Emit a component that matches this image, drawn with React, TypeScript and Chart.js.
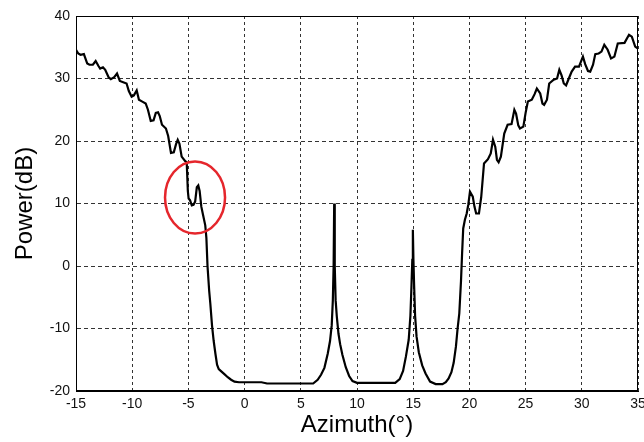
import React, { useEffect, useRef } from "react";
import { Chart, registerables } from "chart.js";

Chart.register(...registerables);

// Azimuth (degrees)
const azimuth: number[] = [
  -15, -14.8, -14.6, -14.3, -14.0, -13.8, -13.5, -13.25, -13.0, -12.85, -12.6, -12.4, -12.1, -11.9, -11.6, -11.35,
  -11.1, -10.8, -10.5, -10.3, -10.05, -9.85, -9.6, -9.4, -9.1, -8.8, -8.6, -8.35, -8.1, -7.9, -7.7, -7.55, -7.35,
  -7.0, -6.8, -6.55, -6.3, -6.1, -5.95, -5.8, -5.6, -5.3, -5.15, -5.05, -4.98, -4.85, -4.7, -4.55, -4.4, -4.25,
  -4.12, -4.0, -3.85, -3.7, -3.5, -3.4, -3.3, -3.15, -3.05, -2.9, -2.75, -2.6, -2.45, -2.3, -2.05, -1.8, -1.5,
  -1.2, -0.9, -0.5, 1.5, 2.0, 6.1, 6.5, 6.8, 7.1, 7.4, 7.6, 7.75, 7.85, 7.92, 7.97, 8.02, 8.1, 8.2, 8.35, 8.5,
  8.7, 9.0, 9.3, 9.6, 10.0, 13.4, 13.8, 14.1, 14.35, 14.6, 14.75, 14.85, 14.92, 14.97, 15.02, 15.08, 15.17, 15.3,
  15.5, 15.8, 16.1, 16.5, 17.0, 17.6, 17.9, 18.15, 18.4, 18.6, 18.8, 18.95, 19.1, 19.25, 19.35, 19.45, 19.6,
  19.76, 19.9, 20.05, 20.3, 20.45, 20.6, 20.85, 21.05, 21.3, 21.65, 21.9, 22.1, 22.3, 22.45, 22.6, 22.8, 23.1,
  23.4, 23.75, 24.0, 24.15, 24.35, 24.5, 24.8, 25.0, 25.2, 25.55, 25.8, 26.0, 26.3, 26.5, 26.65, 26.9, 27.1,
  27.5, 27.8, 28.0, 28.2, 28.4, 28.6, 28.8, 29.1, 29.4, 29.75, 30.1, 30.3, 30.55, 30.75, 31.0, 31.2, 31.5,
  31.75, 32.0, 32.3, 32.6, 32.9, 33.2, 33.8, 34.2, 34.45, 34.75, 35.0,
];

// Power (dB)
const power: number[] = [
  34.6, 34.0, 33.8, 33.9, 32.4, 32.2, 32.2, 32.8, 32.0, 31.6, 31.8, 31.4, 30.2, 29.9, 30.2, 30.8,
  29.6, 29.4, 29.2, 28.0, 27.1, 27.3, 28.1, 26.6, 26.3, 26.0, 25.0, 23.2, 23.3, 24.5, 24.6, 24.0, 22.6,
  22.0, 20.8, 18.1, 18.2, 19.5, 20.2, 19.6, 17.5, 16.8, 16.6, 12.0, 10.8, 10.5, 9.7, 9.8, 10.3, 12.6,
  12.9, 12.0, 9.5, 8.2, 6.5, 4.5, 0.0, -4.0, -6.0, -9.5, -12.0, -14.0, -15.8, -16.5, -16.9, -17.3, -17.8,
  -18.2, -18.5, -18.6, -18.6, -18.8, -18.8, -18.2, -17.4, -16.3, -14.0, -12.0, -9.5, -5.5, 0, 10.0, 0, -5.5, -8.0, -10.8, -12.5,
  -14.2, -16.2, -17.6, -18.4, -18.7, -18.7, -18.1, -16.8, -14.5, -11.8, -8.0, -3.0, 1.0, 5.8, 1.0, -3.0, -8.0, -11.3,
  -13.8, -15.9, -17.2, -18.5, -18.9, -18.9, -18.6, -18.0, -17.0, -15.5, -12.9, -10.0, -7.6, -2.5, 2.0, 6.0, 7.4,
  8.4, 9.8, 11.9, 11.1, 9.5, 8.4, 8.4, 11.0, 16.4, 17.1, 18.0, 20.2, 19.1, 17.0, 16.6, 17.5, 21.2,
  22.6, 22.7, 25.0, 24.4, 22.5, 22.0, 22.3, 24.5, 26.3, 26.6, 27.5, 28.4, 27.6, 26.0, 25.8, 26.6, 29.2,
  29.8, 30.0, 31.4, 30.5, 29.2, 28.9, 29.8, 31.1, 31.9, 31.9, 33.5, 32.3, 31.2, 31.1, 32.2, 33.9, 34.0,
  34.3, 35.4, 34.6, 33.2, 33.5, 35.6, 35.7, 37.0, 36.7, 35.1, 34.8,
];

const xTicks: number[] = [-15, -10, -5, 0, 5, 10, 15, 20, 25, 30, 35];
const yTicks: number[] = [-20, -10, 0, 10, 20, 30, 40];

// Highlight ellipse: [centerAzimuth, centerPower, radiusAzimuth, radiusPower]
const highlight: number[] = [-4.41, 10.96, 2.67, 5.76];

const FONT = "'Liberation Sans', Arial, sans-serif";

const framePlugin = {
  id: "frameAndEllipse",
  afterDatasetsDraw(chart: any) {
    const { ctx, chartArea, scales } = chart;
    ctx.save();
    ctx.strokeStyle = "#000";
    ctx.lineWidth = 1;
    ctx.setLineDash([]);
    ctx.strokeRect(
      Math.round(chartArea.left) + 0.5,
      Math.round(chartArea.top) + 0.5,
      Math.round(chartArea.right - chartArea.left) - 1,
      Math.round(chartArea.bottom - chartArea.top) - 1
    );
    const x = scales.x;
    const y = scales.y;
    const cx = x.getPixelForValue(highlight[0]);
    const cy = y.getPixelForValue(highlight[1]);
    const rx = Math.abs(x.getPixelForValue(highlight[0] + highlight[2]) - cx);
    const ry = Math.abs(y.getPixelForValue(highlight[1] + highlight[3]) - cy);
    ctx.beginPath();
    ctx.ellipse(cx, cy, rx, ry, 0, 0, Math.PI * 2);
    ctx.strokeStyle = "#e5262c";
    ctx.lineWidth = 2.5;
    ctx.stroke();
    ctx.restore();
  },
};

const bgPlugin = {
  id: "whiteBg",
  beforeDraw(chart: any) {
    const { ctx, width, height } = chart;
    ctx.save();
    ctx.fillStyle = "#fff";
    ctx.fillRect(0, 0, width, height);
    ctx.restore();
  },
};

export default function App() {
  const ref = useRef<HTMLCanvasElement | null>(null);

  useEffect(() => {
    document.body.style.margin = "0";
    if (!ref.current) return;
    const points = azimuth.map((a, i) => ({ x: a, y: power[i] }));
    const chart = new Chart(ref.current, {
      type: "scatter",
      data: {
        datasets: [
          {
            data: points,
            showLine: true,
            borderColor: "#000",
            borderWidth: 2.2,
            pointRadius: 0,
            tension: 0,
          },
        ],
      },
      options: {
        animation: false,
        responsive: false,
        devicePixelRatio: 1,
        layout: { padding: { top: 16, right: 6, left: 0, bottom: 0 } },
        plugins: { legend: { display: false }, tooltip: { enabled: false } },
        scales: {
          x: {
            type: "linear",
            min: -15,
            max: 35,
            afterBuildTicks: (s: any) => {
              s.ticks = xTicks.map((v) => ({ value: v }));
            },
            afterFit: (s: any) => {
              s.height = 51;
              s.paddingLeft = 0;
              s.paddingRight = 0;
            },
            ticks: {
              font: { family: FONT, size: 14 },
              color: "#111",
              padding: 5,
              maxRotation: 0,
            },
            grid: { color: "#333", lineWidth: 1, drawTicks: false },
            border: { display: true, color: "#000", width: 1, dash: [3, 3] },
            title: {
              display: true,
              text: "Azimuth(°)",
              font: { family: FONT, size: 24 },
              color: "#000",
              padding: { top: 0, bottom: 2 },
            },
          },
          y: {
            type: "linear",
            min: -20,
            max: 40,
            afterBuildTicks: (s: any) => {
              s.ticks = yTicks.map((v) => ({ value: v }));
            },
            afterFit: (s: any) => {
              s.width = 76;
              s.paddingTop = 0;
              s.paddingBottom = 0;
            },
            ticks: {
              font: { family: FONT, size: 14 },
              color: "#111",
              padding: 6,
            },
            grid: { color: "#333", lineWidth: 1, drawTicks: false },
            border: { display: true, color: "#000", width: 1, dash: [4, 3] },
            title: {
              display: true,
              text: "Power(dB)",
              font: { family: FONT, size: 24 },
              color: "#000",
              padding: { top: 11, bottom: 0 },
            },
          },
        },
      },
      plugins: [bgPlugin, framePlugin],
    });
    return () => chart.destroy();
  }, []);

  return (
    <div style={{ position: "fixed", left: 0, top: 0, width: 644, height: 442, background: "#fff" }}>
      <canvas ref={ref} width={644} height={442} style={{ width: 644, height: 442 }} />
    </div>
  );
}
